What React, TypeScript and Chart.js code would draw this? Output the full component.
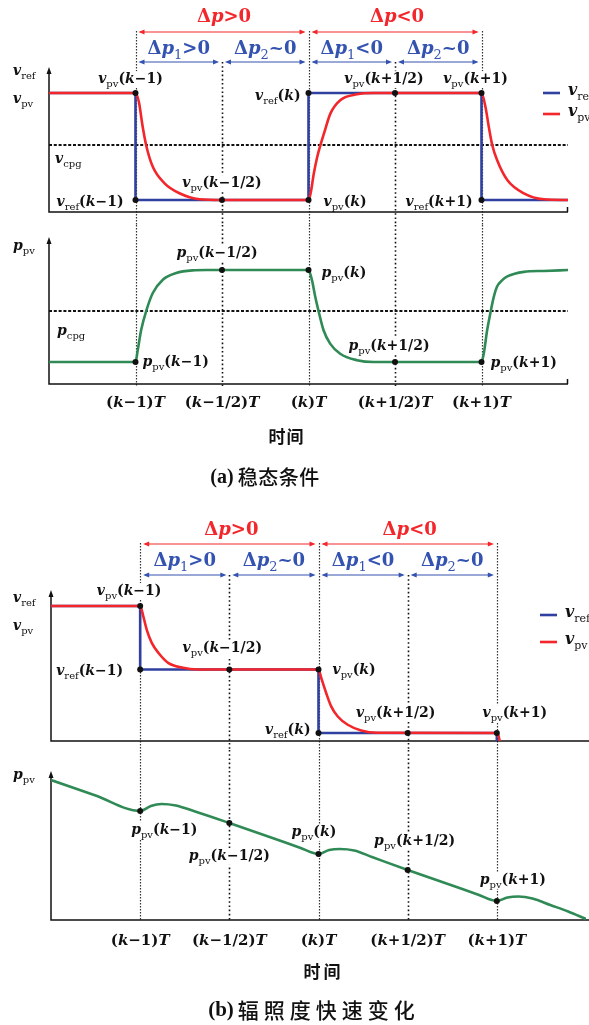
import React, { useEffect, useRef } from 'react';
import { Chart, registerables } from 'chart.js';

Chart.register(...registerables);

const PAGE_W = 589;
const PAGE_H = 1025;

const SERIF = "'DejaVu Serif', 'Liberation Serif', serif";
const TIMES = "'Liberation Serif', serif";
const CJK = "'Noto Sans CJK SC', 'Noto Sans CJK JP', sans-serif";

const RED = '#f2262b';
const BLUE = '#2f40a0';
const BLUE_TXT = '#3453b0';
const GREEN = '#2f8a55';
const INK = '#111';

// Time axis in units of the sampling period T; (k−1)T sits at 0
const X_MIN = -0.5;
const X_MAX = 2.5;
const TICK_VALUES = [0, 0.5, 1, 1.5, 2];
const TICK_LABELS = ['(k−1)T', '(k−1/2)T', '(k)T', '(k+1/2)T', '(k+1)T'];
const DP_LABELS = ['Δp>0', 'Δp<0'];
const DP_HALF_LABELS = ['Δp_{1}>0', 'Δp_{2}~0', 'Δp_{1}<0', 'Δp_{2}~0'];

// (a) steady state — voltage reference steps and PV voltage settling
const A_VREF_T = [-0.5, 0, 0, 1, 1, 2, 2, 2.5];
const A_VREF = [1, 1, 0, 0, 1, 1, 0, 0];
const A_VPV_T = [-0.5, 0, 0.019, 0.042, 0.062, 0.1, 0.168, 0.254, 0.37, 0.5,
  1, 1.012, 1.031, 1.05, 1.069, 1.089, 1.127, 1.185, 1.28, 1.376, 1.5,
  2, 2.023, 2.042, 2.062, 2.09, 2.149, 2.245, 2.36, 2.5];
const A_VPV = [1, 1, 0.92, 0.68, 0.51, 0.31, 0.156, 0.063, 0.007, 0,
  0, 0.06, 0.25, 0.4, 0.514, 0.62, 0.81, 0.935, 0.988, 1, 1,
  1, 0.87, 0.685, 0.514, 0.374, 0.187, 0.063, 0.007, 0];
const A_V_CPG = 0.51;
const A_VDOT_T = [0, 0, 0.5, 1, 1, 1.5, 2, 2];
const A_VDOT = [1, 0, 0, 1, 0, 1, 1, 0];

// (a) PV power
const A_PPV_T = [-0.5, 0, 0.013, 0.033, 0.062, 0.1, 0.158, 0.235, 0.33, 0.41,
  1, 1.02, 1.039, 1.058, 1.087, 1.125, 1.183, 1.28, 1.376,
  2, 2.013, 2.033, 2.05, 2.07, 2.09, 2.12, 2.149, 2.245, 2.36, 2.5];
const A_PPV = [0, 0, 0.13, 0.35, 0.555, 0.75, 0.895, 0.967, 0.996, 1,
  1, 0.89, 0.71, 0.554, 0.345, 0.2, 0.09, 0.02, 0,
  0, 0.09, 0.35, 0.52, 0.7, 0.82, 0.89, 0.93, 0.98, 0.99, 1];
const A_P_CPG = 0.55;
const A_PDOT_T = [0, 0.5, 1, 1.5, 2];
const A_PDOT = [0, 1, 1, 0, 0];

// (b) fast irradiance change — voltages
const B_VREF_T = [-0.5, 0, 0, 1, 1, 2, 2];
const B_VREF = [2, 2, 1, 1, 0, 0, -0.6];
const B_VPV_T = [-0.5, 0, 0.018, 0.037, 0.065, 0.103, 0.159, 0.233, 0.327,
  1, 1.015, 1.043, 1.071, 1.108, 1.164, 1.239, 1.33, 2, 2.01, 2.02, 2.035];
const B_VPV = [2, 2, 1.833, 1.625, 1.42, 1.26, 1.1, 1.03, 1,
  1, 0.87, 0.63, 0.42, 0.26, 0.13, 0.04, 0.005, 0, -0.05, -0.2, -0.5];
const B_VDOT_T = [0, 0, 0.5, 1, 1, 1.5, 2];
const B_VDOT = [2, 1, 1, 1, 0, 0, 0];

// (b) PV power under falling irradiance
const B_PPV_T = [-0.5, -0.25, 0, 0.06, 0.12, 0.2, 0.3, 0.5, 0.75, 0.9, 1,
  1.06, 1.12, 1.2, 1.3, 1.5, 1.75, 1.9, 2,
  2.06, 2.12, 2.2, 2.3, 2.4, 2.5];
const B_PPV = [1.4, 1.245, 1.09, 1.14, 1.16, 1.145, 1.09, 0.97, 0.815, 0.72, 0.66,
  0.7, 0.71, 0.695, 0.63, 0.5, 0.345, 0.25, 0.19,
  0.225, 0.235, 0.215, 0.15, 0.085, 0.01];
const B_PDOT_T = [0, 0.5, 1, 1.5, 2];
const B_PDOT = [1.09, 0.97, 0.66, 0.5, 0.19];

type Pt = { x: number; y: number };
const zip = (xs: number[], ys: number[]): Pt[] => xs.map((x, i) => ({ x, y: ys[i] }));

type Label = { text: string; dot?: number; at?: [number, number]; dx: number; dy: number; align: 'left' | 'center' | 'right'; bg?: boolean };
type Series = { data: Pt[]; color: string; smooth: boolean; order: number };
type Panel = {
  top: number; height: number;
  area: { left: number; right: number; top: number; bottom: number };
  yMin: number; yMax: number;
  series: Series[];
  dots: Pt[];
  cpg?: number;
  guides: { outerTop: number; midTop: number; bottom: number };
  axisEnd: number; endTick: boolean;
  arrows?: { red: number; blue: number; redText: number; blueText: number };
  labels: Label[];
  legend?: { x1: number; x2: number; y1: number; y2: number; textX: number };
  footer?: { tickY: number; timeX: number; timeY: number; timePitch: number; capX: number; capY: number; capTag: string; capText: string; capPitch: number; capSize: number };
};

function mathSegments(s: string, size: number) {
  const out: { t: string; font: string; dy: number }[] = [];
  const sub = Math.round(size * 0.7);
  let i = 0;
  while (i < s.length) {
    if (s[i] === '_' && s[i + 1] === '{') {
      const j = s.indexOf('}', i);
      out.push({ t: s.slice(i + 2, j), font: `${sub}px ${SERIF}`, dy: Math.round(size * 0.3) });
      i = j + 1;
      continue;
    }
    const c = s[i];
    const it = /[A-Za-z]/.test(c);
    out.push({ t: c, font: `${it ? 'italic ' : ''}bold ${size}px ${SERIF}`, dy: 0 });
    i++;
  }
  return out;
}

function drawMath(ctx: CanvasRenderingContext2D, s: string, x: number, y: number, align: string, size: number, color: string, bg = false) {
  const segs = mathSegments(s, size);
  let w = 0;
  for (const g of segs) { ctx.font = g.font; w += ctx.measureText(g.t).width; }
  let cx = align === 'center' ? x - w / 2 : align === 'right' ? x - w : x;
  if (bg) {
    ctx.fillStyle = '#fff';
    ctx.fillRect(cx - 1, y - size * 0.85, w + 2, size * 1.2);
  }
  ctx.fillStyle = color;
  ctx.textAlign = 'left';
  ctx.textBaseline = 'alphabetic';
  for (const g of segs) {
    ctx.font = g.font;
    ctx.fillText(g.t, cx, y + g.dy);
    cx += ctx.measureText(g.t).width;
  }
}

function hArrow(ctx: CanvasRenderingContext2D, x1: number, x2: number, y: number, color: string) {
  const h = 6, hw = 2.6;
  ctx.strokeStyle = color;
  ctx.fillStyle = color;
  ctx.lineWidth = 1.2;
  ctx.setLineDash([]);
  ctx.beginPath(); ctx.moveTo(x1 + 2, y); ctx.lineTo(x2 - 2, y); ctx.stroke();
  ctx.beginPath(); ctx.moveTo(x1, y); ctx.lineTo(x1 + h, y - hw); ctx.lineTo(x1 + h, y + hw); ctx.closePath(); ctx.fill();
  ctx.beginPath(); ctx.moveTo(x2, y); ctx.lineTo(x2 - h, y - hw); ctx.lineTo(x2 - h, y + hw); ctx.closePath(); ctx.fill();
}

function makeDecor(p: Panel) {
  const off = p.top;
  return {
    id: 'decor',
    beforeDatasetsDraw(chart: any) {
      const ctx: CanvasRenderingContext2D = chart.ctx;
      const xs = chart.scales.x, ys = chart.scales.y, ca = chart.chartArea;
      ctx.save();
      // sampling-instant guides
      TICK_VALUES.forEach((t, i) => {
        const x = Math.round(xs.getPixelForValue(t)) + 0.5;
        const outer = i % 2 === 0;
        ctx.strokeStyle = outer ? '#333' : INK;
        ctx.lineWidth = outer ? 1.2 : 1.6;
        ctx.setLineDash(outer ? [1.4, 1.6] : [1.6, 2.6]);
        ctx.beginPath();
        ctx.moveTo(x, (outer ? p.guides.outerTop : p.guides.midTop) - off);
        ctx.lineTo(x, p.guides.bottom - off);
        ctx.stroke();
      });
      // constant-power-generation level
      if (p.cpg !== undefined) {
        const y = Math.round(ys.getPixelForValue(p.cpg));
        ctx.strokeStyle = INK;
        ctx.lineWidth = 2.2;
        ctx.setLineDash([3, 1.8]);
        ctx.beginPath(); ctx.moveTo(ca.left, y); ctx.lineTo(ca.right, y); ctx.stroke();
      }
      // axes
      ctx.setLineDash([]);
      ctx.strokeStyle = INK;
      ctx.fillStyle = INK;
      ctx.lineWidth = 1.5;
      ctx.beginPath();
      ctx.moveTo(ca.left, ca.top + 3);
      ctx.lineTo(ca.left, ca.bottom);
      ctx.lineTo(p.axisEnd, ca.bottom);
      ctx.stroke();
      ctx.beginPath();
      ctx.moveTo(ca.left, ca.top - 1);
      ctx.lineTo(ca.left - 2.5, ca.top + 6);
      ctx.lineTo(ca.left + 2.5, ca.top + 6);
      ctx.closePath();
      ctx.fill();
      if (p.endTick) {
        ctx.beginPath(); ctx.moveTo(p.axisEnd - 0.5, ca.bottom); ctx.lineTo(p.axisEnd - 0.5, ca.bottom - 5); ctx.stroke();
      }
      // power-change intervals
      if (p.arrows) {
        const a = p.arrows;
        const px = TICK_VALUES.map((t) => xs.getPixelForValue(t));
        for (let i = 0; i < 2; i++) {
          const x1 = px[i * 2], x2 = px[i * 2 + 2];
          hArrow(ctx, x1 + 3, x2 - 3, a.red - off, RED);
          drawMath(ctx, DP_LABELS[i], (x1 + x2) / 2 + 2, a.redText - off, 'center', 18, RED);
        }
        for (let i = 0; i < 4; i++) {
          const x1 = px[i], x2 = px[i + 1];
          hArrow(ctx, x1 + 3, x2 - 3, a.blue - off, BLUE_TXT);
          drawMath(ctx, DP_HALF_LABELS[i], (x1 + x2) / 2, a.blueText - off, 'center', 18, BLUE_TXT);
        }
      }
      ctx.restore();
    },
    afterDatasetsDraw(chart: any) {
      const ctx: CanvasRenderingContext2D = chart.ctx;
      const xs = chart.scales.x, ys = chart.scales.y;
      ctx.save();
      for (const L of p.labels) {
        const src = L.dot !== undefined ? p.dots[L.dot] : { x: L.at![0], y: L.at![1] };
        const x = xs.getPixelForValue(src.x) + L.dx;
        const y = ys.getPixelForValue(src.y) + L.dy;
        drawMath(ctx, L.text, x, y, L.align, 14, INK, L.bg !== false);
      }
      if (p.legend) {
        const g = p.legend;
        const rows: [string, string, number][] = [[BLUE, 'v_{ref}', g.y1], [RED, 'v_{pv}', g.y2]];
        for (const [c, t, y] of rows) {
          ctx.strokeStyle = c;
          ctx.lineWidth = 2.6;
          ctx.setLineDash([]);
          ctx.beginPath(); ctx.moveTo(g.x1, y - off); ctx.lineTo(g.x2, y - off); ctx.stroke();
          drawMath(ctx, t, g.textX, y - off + 2, 'left', 16, INK);
        }
      }
      if (p.footer) {
        const f = p.footer;
        TICK_VALUES.forEach((t, i) => {
          drawMath(ctx, TICK_LABELS[i], xs.getPixelForValue(t), f.tickY - off, 'center', 15, INK);
        });
        ctx.fillStyle = INK;
        ctx.textBaseline = 'middle';
        ctx.textAlign = 'center';
        ctx.font = `bold 17px ${CJK}`;
        const time = '时间';
        for (let i = 0; i < time.length; i++) {
          ctx.fillText(time[i], f.timeX + (i - (time.length - 1) / 2) * f.timePitch, f.timeY - off);
        }
        ctx.font = `bold ${f.capSize}px ${TIMES}`;
        const tagW = ctx.measureText(f.capTag).width;
        const total = tagW + 4 + f.capText.length * f.capPitch;
        let x = f.capX - total / 2;
        ctx.textAlign = 'left';
        ctx.fillText(f.capTag, x, f.capY - off + 1);
        x += tagW + 4;
        ctx.font = `500 ${f.capSize}px ${CJK}`;
        for (let i = 0; i < f.capText.length; i++) {
          ctx.fillText(f.capText[i], x + i * f.capPitch, f.capY - off);
        }
      }
      ctx.restore();
    },
  };
}

const PANELS: Panel[] = [
  {
    top: 0, height: 225,
    area: { left: 49, right: 568, top: 68, bottom: 212 },
    yMin: -0.112, yMax: 1.234,
    series: [
      { data: zip(A_VPV_T, A_VPV), color: RED, smooth: true, order: 1 },
      { data: zip(A_VREF_T, A_VREF), color: BLUE, smooth: false, order: 2 },
    ],
    dots: zip(A_VDOT_T, A_VDOT),
    cpg: A_V_CPG,
    guides: { outerTop: 31, midTop: 62, bottom: 225 },
    axisEnd: 568, endTick: true,
    arrows: { red: 32, blue: 62, redText: 22, blueText: 54 },
    labels: [
      { text: 'v_{ref}', at: [X_MIN, 1], dx: -36, dy: -18, align: 'left', bg: false },
      { text: 'v_{pv}', at: [X_MIN, 1], dx: -36, dy: 10, align: 'left', bg: false },
      { text: 'v_{cpg}', at: [X_MIN, A_V_CPG], dx: 6, dy: 18, align: 'left', bg: false },
      { text: 'v_{pv}(k−1)', dot: 0, dx: -5, dy: -10, align: 'center' },
      { text: 'v_{ref}(k−1)', dot: 1, dx: -12, dy: 6, align: 'right' },
      { text: 'v_{pv}(k−1/2)', dot: 2, dx: 0, dy: -13, align: 'center' },
      { text: 'v_{ref}(k)', dot: 3, dx: -8, dy: 7, align: 'right' },
      { text: 'v_{pv}(k)', dot: 4, dx: 15, dy: 6, align: 'left' },
      { text: 'v_{pv}(k+1/2)', dot: 5, dx: -11, dy: -10, align: 'center' },
      { text: 'v_{pv}(k+1)', dot: 6, dx: -6, dy: -10, align: 'center' },
      { text: 'v_{ref}(k+1)', dot: 7, dx: -9, dy: 6, align: 'right' },
    ],
    legend: { x1: 543, x2: 560, y1: 93, y2: 114, textX: 568 },
  },
  {
    top: 225, height: 275,
    area: { left: 49, right: 568, top: 238, bottom: 384 },
    yMin: -0.239, yMax: 1.348,
    series: [{ data: zip(A_PPV_T, A_PPV), color: GREEN, smooth: true, order: 1 }],
    dots: zip(A_PDOT_T, A_PDOT),
    cpg: A_P_CPG,
    guides: { outerTop: 225, midTop: 225, bottom: 386 },
    axisEnd: 568, endTick: true,
    labels: [
      { text: 'p_{pv}', at: [X_MIN, 1], dx: -36, dy: -20, align: 'left', bg: false },
      { text: 'p_{cpg}', at: [X_MIN, A_P_CPG], dx: 8, dy: 24, align: 'left', bg: false },
      { text: 'p_{pv}(k−1)', dot: 0, dx: 7, dy: 4, align: 'left' },
      { text: 'p_{pv}(k−1/2)', dot: 1, dx: -5, dy: -13, align: 'center' },
      { text: 'p_{pv}(k)', dot: 2, dx: 13, dy: 7, align: 'left' },
      { text: 'p_{pv}(k+1/2)', dot: 3, dx: -6, dy: -12, align: 'center' },
      { text: 'p_{pv}(k+1)', dot: 4, dx: 9, dy: 5, align: 'left' },
    ],
    footer: { tickY: 407, timeX: 286, timeY: 437, timePitch: 18, capX: 265, capY: 477, capTag: '(a)', capText: '稳态条件', capPitch: 20.5, capSize: 20 },
  },
  {
    top: 500, height: 250,
    area: { left: 51, right: 586.5, top: 591, bottom: 741 },
    yMin: -0.126, yMax: 2.236,
    series: [
      { data: zip(B_VPV_T, B_VPV), color: RED, smooth: true, order: 1 },
      { data: zip(B_VREF_T, B_VREF), color: BLUE, smooth: false, order: 2 },
    ],
    dots: zip(B_VDOT_T, B_VDOT),
    guides: { outerTop: 543, midTop: 575, bottom: 750 },
    axisEnd: 589, endTick: false,
    arrows: { red: 544, blue: 575, redText: 535, blueText: 566 },
    labels: [
      { text: 'v_{ref}', at: [X_MIN, 2], dx: -38, dy: -4, align: 'left', bg: false },
      { text: 'v_{pv}', at: [X_MIN, 2], dx: -38, dy: 24, align: 'left', bg: false },
      { text: 'v_{pv}(k−1)', dot: 0, dx: -11, dy: -11, align: 'center' },
      { text: 'v_{ref}(k−1)', dot: 1, dx: -17, dy: 6, align: 'right' },
      { text: 'v_{pv}(k−1/2)', dot: 2, dx: -7, dy: -17, align: 'center' },
      { text: 'v_{ref}(k)', dot: 4, dx: -8, dy: 1, align: 'right' },
      { text: 'v_{pv}(k)', dot: 3, dx: 14, dy: 5, align: 'left' },
      { text: 'v_{pv}(k+1/2)', dot: 5, dx: -12, dy: -16, align: 'center' },
      { text: 'v_{pv}(k+1)', dot: 6, dx: 18, dy: -16, align: 'center' },
    ],
    legend: { x1: 540, x2: 557, y1: 615, y2: 642, textX: 565 },
  },
  {
    top: 750, height: 275,
    area: { left: 51, right: 586.5, top: 772, bottom: 920 },
    yMin: 0, yMax: 1.48,
    series: [{ data: zip(B_PPV_T, B_PPV), color: GREEN, smooth: true, order: 1 }],
    dots: zip(B_PDOT_T, B_PDOT),
    guides: { outerTop: 750, midTop: 750, bottom: 921 },
    axisEnd: 589, endTick: false,
    labels: [
      { text: 'p_{pv}', at: [X_MIN, B_PPV[0]], dx: -38, dy: -1, align: 'left', bg: false },
      { text: 'p_{pv}(k−1)', dot: 0, dx: -9, dy: 23, align: 'left' },
      { text: 'p_{pv}(k−1/2)', dot: 1, dx: 0, dy: 37, align: 'center' },
      { text: 'p_{pv}(k)', dot: 2, dx: -27, dy: -18, align: 'left' },
      { text: 'p_{pv}(k+1/2)', dot: 3, dx: 7, dy: -25, align: 'center' },
      { text: 'p_{pv}(k+1)', dot: 4, dx: 16, dy: -17, align: 'center' },
    ],
    footer: { tickY: 945, timeX: 322, timeY: 972, timePitch: 20, capX: 314, capY: 1010, capTag: '(b)', capText: '辐照度快速变化', capPitch: 26, capSize: 21 },
  },
];

function PanelChart({ panel }: { panel: Panel }) {
  const ref = useRef<HTMLCanvasElement>(null);
  useEffect(() => {
    const p = panel;
    const datasets: any[] = [
      {
        data: p.dots, showLine: false, pointRadius: 3, pointHoverRadius: 3,
        pointBackgroundColor: INK, pointBorderWidth: 0, order: 0,
      },
      ...p.series.map((s) => ({
        data: s.data, borderColor: s.color, borderWidth: 2.6, pointRadius: 0, fill: false,
        tension: 0, cubicInterpolationMode: s.smooth ? 'monotone' : 'default', order: s.order,
      })),
    ];
    const chart = new Chart(ref.current!, {
      type: 'line',
      data: { datasets },
      options: {
        animation: false,
        responsive: false,
        events: [],
        layout: {
          padding: {
            left: p.area.left,
            right: PAGE_W - p.area.right,
            top: p.area.top - p.top,
            bottom: p.top + p.height - p.area.bottom,
          },
        },
        scales: {
          x: { type: 'linear', min: X_MIN, max: X_MAX, display: false },
          y: { type: 'linear', min: p.yMin, max: p.yMax, display: false },
        },
        plugins: { legend: { display: false }, tooltip: { enabled: false } },
      },
      plugins: [makeDecor(p)],
    } as any);
    return () => chart.destroy();
  }, [panel]);
  return (
    <canvas
      ref={ref}
      width={PAGE_W}
      height={panel.height}
      style={{ position: 'absolute', left: 0, top: panel.top, width: PAGE_W, height: panel.height }}
    />
  );
}

export default function App() {
  return (
    <div style={{ position: 'absolute', left: 0, top: 0, width: PAGE_W, height: PAGE_H, background: '#fff', overflow: 'hidden' }}>
      {PANELS.map((p, i) => (
        <PanelChart key={i} panel={p} />
      ))}
    </div>
  );
}
